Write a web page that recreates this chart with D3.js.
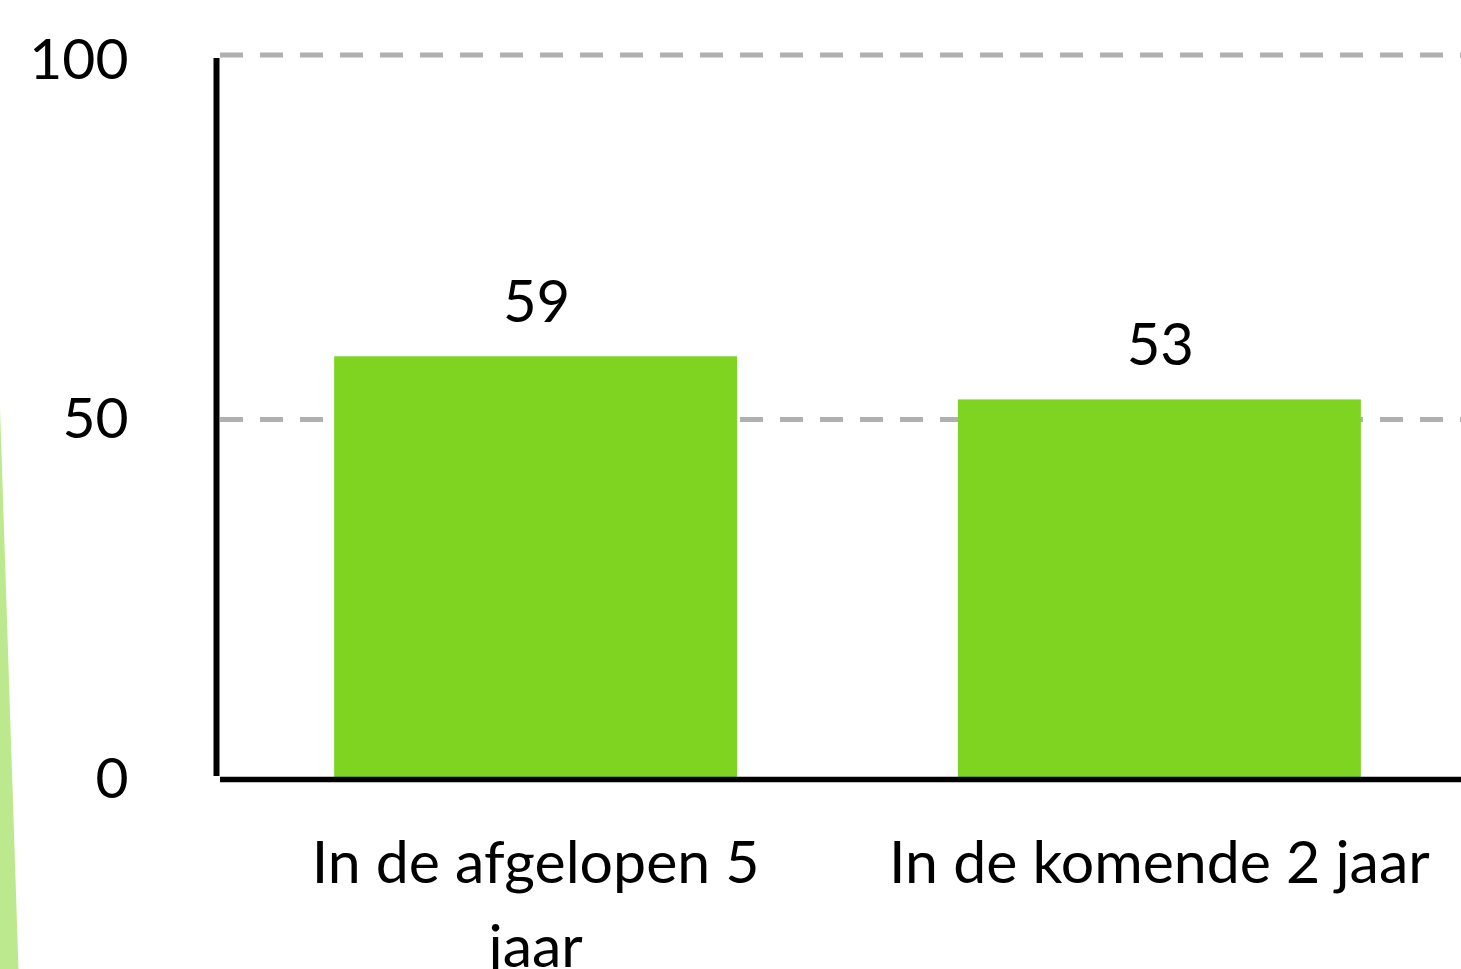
<!DOCTYPE html>
<html>
<head>
<meta charset="utf-8">
<script src="https://cdn.jsdelivr.net/npm/d3@7"></script>
<style>
  html, body { margin: 0; padding: 0; background: #fff; overflow: hidden; }
  svg { display: block; font-family: Lato, "Noto Sans", sans-serif; }
</style>
</head>
<body>
<div id="chart"></div>
<script>
// chart data
var categories = ["In de afgelopen 5 jaar", "In de komende 2 jaar"];
var values = [59, 53];
var yTicks = [0, 50, 100];

var width = 1461;
var height = 969;

var svg = d3.select("#chart")
            .append("svg")
            .attr("width", width)
            .attr("height", height);

// light green decoration at the left edge
svg.append("polygon")
   .attr("points", "0,408 18.5,969 0,969")
   .attr("fill", "#bde98e");

var x = d3.scaleBand()
          .domain(categories)
          .range([220, 1475])
          .paddingInner(0.354)
          .paddingOuter(0.183);

var y = d3.scaleLinear()
          .domain([0, 100])
          .range([779, 60]);

// dashed grid lines
svg.append("g")
   .selectAll("line")
   .data(yTicks.filter(function(d){ return d > 0; }))
   .join("line")
   .attr("x1", 220)
   .attr("x2", width)
   .attr("y1", function(d){ return d === 100 ? y(d) - 5 : y(d); })
   .attr("y2", function(d){ return d === 100 ? y(d) - 5 : y(d); })
   .attr("stroke", "#b0b0b0")
   .attr("stroke-width", 5)
   .attr("stroke-dasharray", "23,17");

// bars
svg.append("g")
   .selectAll("rect")
   .data(values)
   .join("rect")
   .attr("x", function(d, i){ return x(categories[i]); })
   .attr("width", x.bandwidth())
   .attr("y", function(d){ return y(d) + 1.5; })
   .attr("height", function(d){ return y(0) - 3.5 - y(d); })
   .attr("fill", "#7fd321");

// value labels
svg.append("g")
   .selectAll("text")
   .data(values)
   .join("text")
   .attr("x", function(d, i){ return x(categories[i]) + x.bandwidth() / 2 + 1; })
   .attr("y", function(d){ return y(d) - 33; })
   .attr("text-anchor", "middle")
   .attr("font-size", 58)
   .attr("fill", "#000")
   .text(function(d){ return d; });

// y axis labels
var yAxis = svg.append("g")
   .attr("transform", "translate(216.5,0)")
   .call(d3.axisLeft(y).tickValues(yTicks).tickSize(0).tickPadding(88));
yAxis.select(".domain").remove();
yAxis.selectAll("text")
     .attr("font-size", 57)
     .attr("font-family", "Lato, 'Noto Sans', sans-serif")
     .attr("fill", "#000");

// axis lines
svg.append("line")
   .attr("x1", 216.5).attr("x2", 216.5)
   .attr("y1", y(100) - 2).attr("y2", y(0) - 3)
   .attr("stroke", "#000")
   .attr("stroke-width", 6);

svg.append("line")
   .attr("x1", 220).attr("x2", width)
   .attr("y1", y(0) + 0.5).attr("y2", y(0) + 0.5)
   .attr("stroke", "#000")
   .attr("stroke-width", 5.5);

// category labels, wrapped
var wrap = function(text, maxWidth){
	text.each(function(){
		var t = d3.select(this);
		var words = t.text().split(" ");
		var cx = t.attr("x");
		t.text(null);
		var line = [];
		var tspan = t.append("tspan").attr("x", cx).attr("dy", 0);
		words.forEach(function(w){
			line.push(w);
			tspan.text(line.join(" "));
			if(tspan.node().getComputedTextLength() > maxWidth && line.length > 1){
				line.pop();
				tspan.text(line.join(" "));
				line = [w];
				tspan = t.append("tspan").attr("x", cx).attr("dy", 84).text(w);
			}
		});
	});
};

svg.append("g")
   .selectAll("text")
   .data(categories)
   .join("text")
   .attr("x", function(d){ return x(d) + x.bandwidth() / 2; })
   .attr("y", 883)
   .attr("text-anchor", "middle")
   .attr("font-size", 59)
   .attr("fill", "#000")
   .text(function(d){ return d; })
   .call(wrap, 545);
</script>
</body>
</html>
